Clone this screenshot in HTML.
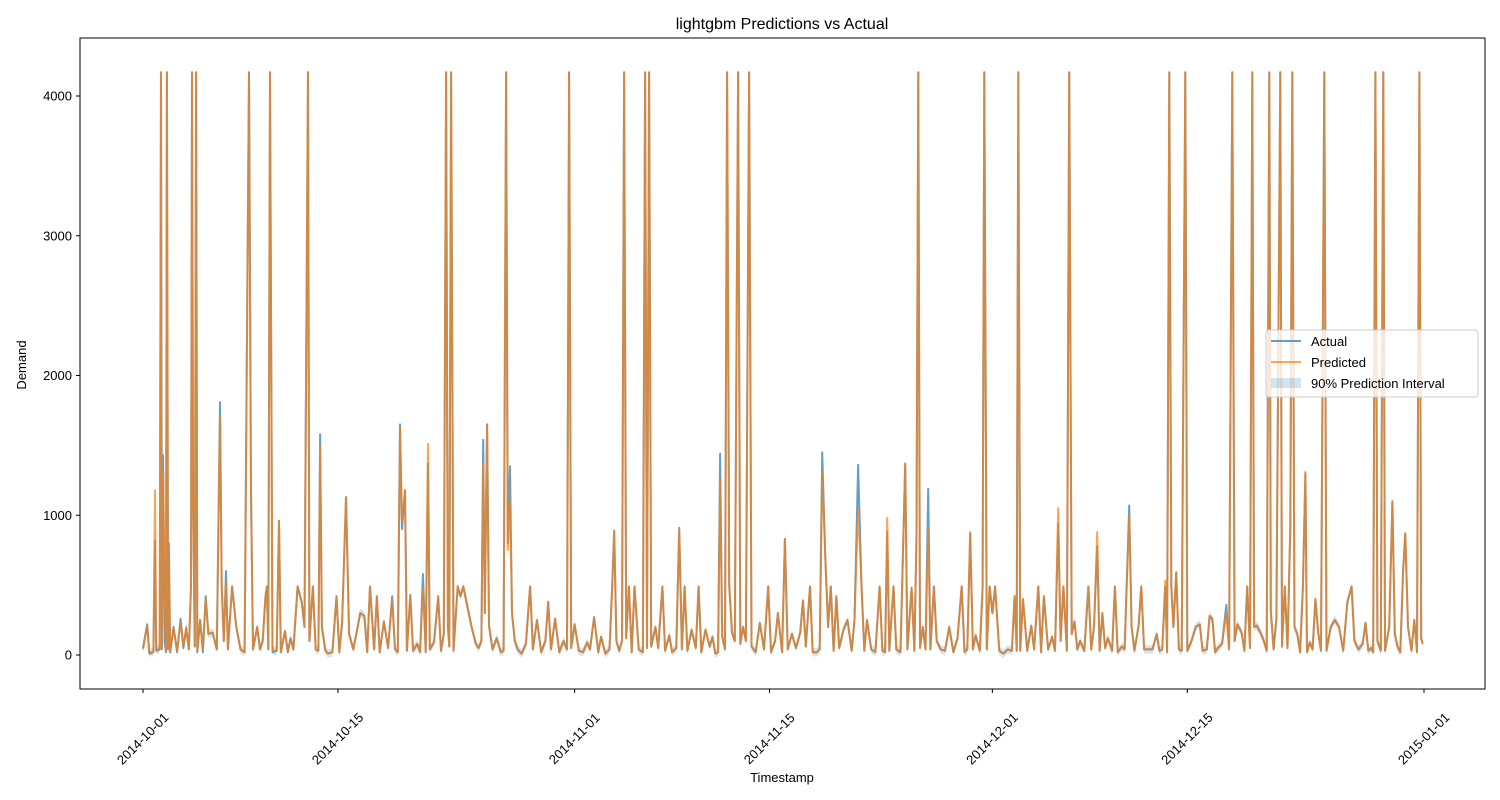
<!DOCTYPE html>
<html><head><meta charset="utf-8"><style>
body{margin:0;background:#fff;}
svg{display:block;font-family:"Liberation Sans","DejaVu Sans",sans-serif;}
</style></head><body>
<svg id="chart" width="1500" height="800" viewBox="0 0 1500 800">
<rect x="0" y="0" width="1500" height="800" fill="#fff"/>
<text x="782" y="29" text-anchor="middle" font-size="16">lightgbm Predictions vs Actual</text>
<text x="782" y="782" text-anchor="middle" font-size="13">Timestamp</text>
<text transform="translate(26,365) rotate(-90)" text-anchor="middle" font-size="13">Demand</text>
<g id="band"></g>
<g id="lines"></g>
<g id="axes"></g>
<rect x="80" y="38" width="1405" height="651" fill="none" stroke="#000" stroke-width="1"/>
<g>
<rect x="1266" y="330" width="212" height="67" rx="3" fill="#fff" fill-opacity="0.8" stroke="#ccc"/>
<line x1="1271" y1="341" x2="1301" y2="341" stroke="#1f77b4" stroke-opacity="0.7" stroke-width="2"/>
<text x="1311" y="346" font-size="13">Actual</text>
<line x1="1271" y1="362" x2="1301" y2="362" stroke="#ff7f0e" stroke-opacity="0.7" stroke-width="2"/>
<text x="1311" y="367" font-size="13">Predicted</text>
<rect x="1271" y="378" width="30" height="10" fill="#1f77b4" fill-opacity="0.2"/>
<text x="1311" y="388" font-size="13">90% Prediction Interval</text>
</g>
</svg>
<script>
const days=[0,0.3,0.45,0.75,0.86,0.95,1.2,1.29,1.36,1.44,1.55,1.65,1.72,1.8,1.85,1.95,2.2,2.45,2.7,2.9,3.1,3.3,3.45,3.52,3.6,3.72,3.81,3.9,4.1,4.3,4.5,4.7,5.0,5.3,5.53,5.65,5.8,5.96,6.1,6.4,6.7,7.0,7.3,7.61,7.76,7.9,8.2,8.4,8.6,8.8,8.9,9.0,9.12,9.3,9.6,9.77,9.9,10.2,10.4,10.6,10.8,11.1,11.4,11.6,11.85,11.95,12.2,12.4,12.6,12.72,12.85,13.1,13.3,13.6,13.9,14.1,14.3,14.58,14.8,15.1,15.4,15.6,15.9,16.1,16.3,16.6,16.8,17.0,17.3,17.6,17.9,18.1,18.3,18.46,18.6,18.82,18.95,19.2,19.4,19.7,19.9,20.1,20.3,20.47,20.6,20.9,21.2,21.4,21.6,21.77,21.9,22.0,22.13,22.3,22.6,22.8,23.0,23.3,23.6,23.9,24.1,24.3,24.43,24.55,24.71,24.85,25.1,25.4,25.7,25.9,26.08,26.2,26.36,26.5,26.7,26.9,27.2,27.5,27.8,28.0,28.3,28.6,28.9,29.1,29.3,29.6,29.9,30.2,30.45,30.6,30.75,31.0,31.3,31.6,31.9,32.1,32.4,32.7,32.9,33.2,33.5,33.7,33.84,34.0,34.2,34.4,34.55,34.7,34.9,35.1,35.3,35.6,35.9,36.06,36.2,36.35,36.5,36.8,37.0,37.3,37.5,37.8,38.0,38.3,38.51,38.7,38.9,39.1,39.4,39.7,39.9,40.1,40.4,40.7,40.9,41.1,41.3,41.45,41.6,41.8,41.95,42.1,42.3,42.5,42.74,42.9,43.1,43.3,43.53,43.7,44.0,44.3,44.6,44.9,45.1,45.4,45.6,45.9,46.1,46.3,46.6,46.9,47.2,47.4,47.6,47.9,48.1,48.4,48.6,48.78,49.0,49.2,49.4,49.6,49.8,50.0,50.3,50.6,50.9,51.1,51.36,51.6,51.8,52.0,52.3,52.6,52.9,53.1,53.3,53.45,53.6,53.9,54.1,54.4,54.74,54.9,55.2,55.4,55.55,55.68,55.8,56.0,56.2,56.39,56.55,56.8,57.0,57.3,57.6,57.9,58.2,58.5,58.8,59.0,59.2,59.41,59.6,59.8,60.1,60.3,60.42,60.6,60.8,61.0,61.2,61.5,61.8,62.1,62.4,62.6,62.75,62.86,63.0,63.2,63.5,63.8,64.0,64.3,64.5,64.7,65.0,65.3,65.5,65.73,65.9,66.1,66.35,66.52,66.7,66.9,67.1,67.3,67.6,67.9,68.1,68.3,68.53,68.7,68.9,69.1,69.3,69.6,69.8,70.0,70.3,70.5,70.83,71.0,71.2,71.5,71.7,71.9,72.2,72.5,72.8,73.0,73.2,73.42,73.55,73.71,73.85,74.0,74.2,74.4,74.6,74.86,75.0,75.3,75.6,75.9,76.1,76.4,76.6,76.8,77.0,77.2,77.5,77.8,78.0,78.23,78.4,78.6,78.9,79.1,79.3,79.5,79.67,79.8,80.0,80.3,80.5,80.7,80.89,81.0,81.2,81.4,81.68,81.8,82.0,82.2,82.4,82.54,82.7,82.9,83.1,83.3,83.48,83.6,83.8,84.0,84.2,84.4,84.6,84.84,85.0,85.3,85.6,85.9,86.2,86.5,86.8,87.0,87.3,87.6,87.8,88.0,88.2,88.35,88.51,88.65,88.9,89.08,89.2,89.5,89.73,89.9,90.1,90.3,90.5,90.66,90.85,91.1,91.3,91.5,91.67,91.8,91.9];
const actual=[50,220,10,20,820,30,40,4170,40,1430,100,20,4170,40,800,20,200,20,260,50,190,40,490,4170,1100,60,4170,20,250,20,420,150,160,40,1810,500,100,600,40,490,200,40,20,4170,1180,40,200,40,100,420,490,40,4170,20,30,960,20,170,20,120,40,490,380,200,4170,100,490,40,30,1580,200,30,10,20,420,20,230,1130,150,40,190,300,280,20,490,40,420,20,240,50,420,40,20,1650,900,1180,30,430,30,80,20,580,20,1370,40,90,420,30,150,4170,200,60,4170,30,490,420,490,350,200,80,50,100,1540,300,1650,210,40,120,20,30,4170,800,1350,300,100,40,10,80,490,40,250,20,100,380,40,260,20,100,40,4170,50,220,30,20,90,40,270,20,130,10,40,490,890,100,30,100,4170,120,490,20,490,40,20,4170,50,4170,60,200,50,490,30,140,20,50,910,40,490,30,180,50,490,20,180,60,130,10,20,1440,130,40,4170,500,160,100,4170,80,200,100,4170,60,20,230,40,490,20,100,300,20,830,40,150,50,160,390,60,490,20,20,40,1450,700,200,490,30,420,50,180,250,30,250,1360,500,30,250,40,20,490,30,20,880,30,490,40,20,1370,40,480,30,860,4170,50,200,40,1190,40,490,100,40,30,200,20,120,490,20,40,870,40,140,30,480,4170,40,490,300,490,30,10,40,30,420,30,4170,30,400,30,210,40,490,20,420,40,130,30,940,100,490,30,4170,150,240,40,100,30,490,40,200,780,30,300,50,120,30,490,20,60,40,1070,200,30,210,490,40,40,40,150,30,40,490,20,4170,490,200,590,40,30,4170,30,100,200,220,30,40,280,260,20,50,80,360,40,4170,100,220,160,30,490,50,4170,200,210,150,100,30,4170,330,40,260,4170,60,490,50,920,4170,200,150,20,490,1300,20,90,40,400,160,30,4170,30,200,250,200,30,380,490,100,40,80,230,30,50,20,4170,100,30,4170,30,200,1100,150,60,20,600,870,200,30,250,20,4170,120,80];
const predicted=[40,210,20,20,1180,40,40,4170,50,1300,480,30,4170,40,800,30,190,30,240,60,200,40,490,4170,1100,60,4170,30,250,30,400,150,160,40,1710,500,100,520,40,490,200,40,20,4170,1150,40,200,40,100,420,490,40,4170,30,30,960,20,170,20,120,40,490,380,200,4170,100,490,40,30,1500,200,30,10,20,420,20,230,1130,150,40,190,300,280,20,490,40,420,20,240,50,400,40,20,1630,960,1180,30,420,30,80,20,480,30,1510,40,90,420,30,150,4170,200,60,4170,30,490,420,490,340,200,80,50,100,1370,300,1650,210,40,120,20,30,4170,750,1100,300,100,40,10,80,490,40,250,20,100,380,40,260,20,100,40,4170,50,220,30,20,90,40,270,20,130,10,40,490,890,100,30,100,4170,120,490,20,490,40,20,4170,50,4170,60,200,50,490,30,140,20,50,900,40,490,30,180,50,490,20,180,60,130,10,20,1260,130,40,4170,500,160,100,4170,80,200,100,4170,60,20,230,40,490,20,100,300,20,830,40,150,50,160,390,60,490,20,20,40,1320,700,200,490,30,420,50,180,250,30,250,1050,500,30,250,40,20,490,30,20,980,30,490,40,20,1370,40,480,30,860,4170,50,200,40,900,40,490,100,40,30,200,20,120,490,20,40,880,40,140,30,480,4170,40,490,300,490,30,10,40,30,420,30,4170,30,400,30,210,40,490,20,420,40,130,30,1050,100,490,30,4170,150,240,40,100,30,490,40,200,880,30,300,50,120,30,490,20,60,40,1000,200,30,210,490,40,40,40,150,30,40,530,20,4170,490,200,590,40,30,4170,30,100,200,220,30,40,280,250,20,50,80,300,40,4170,100,220,160,30,490,50,4170,200,210,150,100,30,4170,300,40,260,4170,60,490,50,900,4170,200,150,20,490,1310,20,90,40,400,160,30,4170,30,200,250,200,30,380,490,100,40,80,230,30,50,20,4170,100,30,4170,30,200,1100,150,60,20,600,870,200,30,250,20,4170,120,80];
const intervalHalfWidth=[30];
const yTicks=[0,1000,2000,3000,4000];
const xTickDays=[0,14,31,45,61,75,92];
const xTickLabels=["2014-10-01","2014-10-15","2014-11-01","2014-11-15","2014-12-01","2014-12-15","2015-01-01"];

const NS="http://www.w3.org/2000/svg";
function xs(d){return 143+d*(1424-143)/92;}
function ys(v){return 655-v*(655-96)/4000;}
function mk(tag,attrs,parent){const e=document.createElementNS(NS,tag);for(const k in attrs)e.setAttribute(k,attrs[k]);parent.appendChild(e);return e;}

const axes=document.getElementById('axes');
yTicks.forEach(function(t){
  const g=mk('g',{},axes);
  
  
  mk('line',{x1:76,x2:80,y1:ys(t),y2:ys(t),stroke:'#000'},g);
  const tx=mk('text',{x:72,y:ys(t)+4.5,'text-anchor':'end','font-size':13},g);
  tx.textContent=t;
});
xTickDays.forEach(function(d,i){
  const g=mk('g',{},axes);
  
  
  mk('line',{x1:xs(d),x2:xs(d),y1:689,y2:693,stroke:'#000'},g);
  const tx=mk('text',{x:0,y:0,'text-anchor':'middle','font-size':13,transform:'translate('+xs(d)+',739) rotate(-45) translate(0,4)'},g);
  tx.textContent=xTickLabels[i];
});

const band=document.getElementById('band');
let up="",lo="";
days.forEach(function(d,i){up+=(i?"L":"M")+xs(d).toFixed(1)+","+ys(predicted[i]+intervalHalfWidth[0]).toFixed(1);});
for(let i=days.length-1;i>=0;i--){lo+="L"+xs(days[i]).toFixed(1)+","+ys(Math.max(predicted[i]-intervalHalfWidth[0],-60)).toFixed(1);}
const bp=mk('path',{d:up+lo+"Z",fill:'#1f77b4','fill-opacity':0.2,stroke:'none'},band);



const lines=document.getElementById('lines');
function linePath(vals){return days.map(function(d,i){return (i?"L":"M")+xs(d).toFixed(1)+","+ys(vals[i]).toFixed(1);}).join("");}
const la=mk('path',{d:linePath(actual),fill:'none',stroke:'#1f77b4','stroke-opacity':0.7,'stroke-width':2,'stroke-linejoin':'round'},lines);


const lp=mk('path',{d:linePath(predicted),fill:'none',stroke:'#ff7f0e','stroke-opacity':0.7,'stroke-width':2,'stroke-linejoin':'round'},lines);


</script>
</body></html>
